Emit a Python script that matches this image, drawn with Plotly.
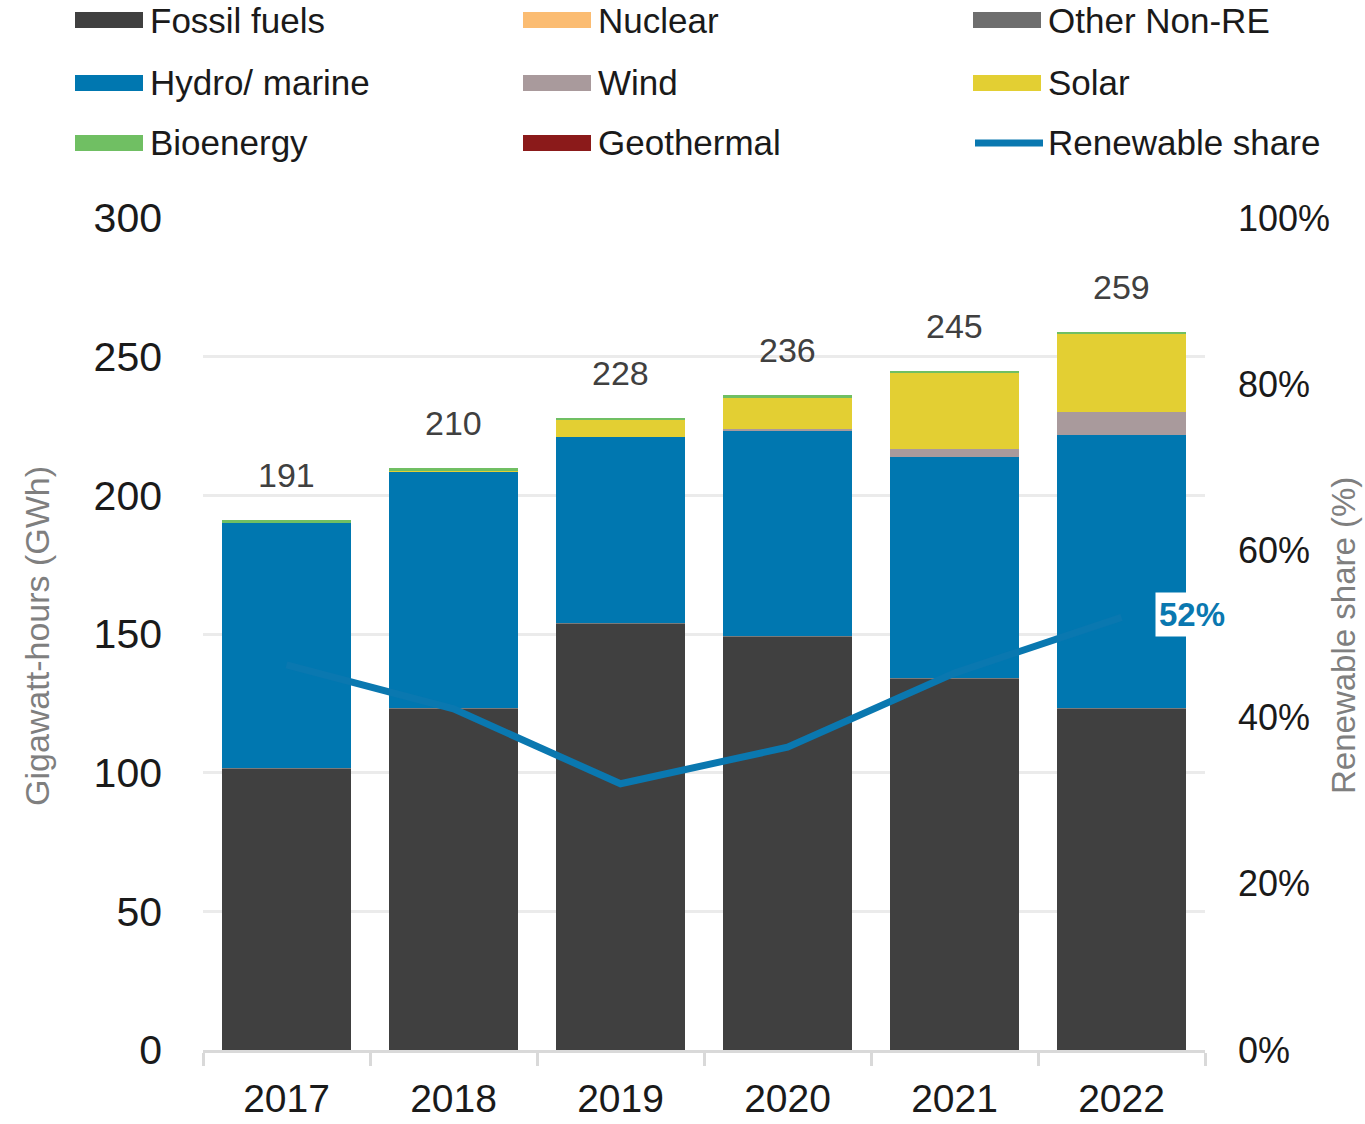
import plotly.graph_objects as go

# Electricity generation by source (GWh) and renewable share
years = ["2017", "2018", "2019", "2020", "2021", "2022"]
fossil = [101.5, 123.0, 153.7, 149.0, 133.8, 123.0]
nuclear = [0, 0, 0, 0, 0, 0]
other_non_re = [0.3, 0.3, 0.3, 0.3, 0.3, 0.3]
hydro = [88.4, 85.2, 67.0, 74.2, 79.9, 98.3]
wind = [0, 0, 0, 0.6, 2.6, 8.5]
solar = [0, 0.4, 6.2, 11.1, 27.6, 28.1]
bioenergy = [0.8, 1.1, 0.8, 0.8, 0.8, 0.8]
geothermal = [0, 0, 0, 0, 0, 0]
totals = [191, 210, 228, 236, 245, 259]
renewable_share = [0.463, 0.410, 0.320, 0.364, 0.453, 0.52]

series = [
    ("Fossil fuels", fossil, "#404040"),
    ("Nuclear", nuclear, "#fbbc72"),
    ("Other Non-RE", other_non_re, "#7a7a7a"),
    ("Hydro/ marine", hydro, "#0077b0"),
    ("Wind", wind, "#a99a9c"),
    ("Solar", solar, "#e3cf33"),
    ("Bioenergy", bioenergy, "#70bf63"),
    ("Geothermal", geothermal, "#8b1a1a"),
]
LINE_COLOR = "#0a78b0"
FONT = "Liberation Sans, Arial, sans-serif"

fig = go.Figure()
for name, vals, color in series:
    fig.add_trace(go.Bar(
        x=years, y=vals, name=name,
        marker=dict(color=color, line=dict(width=0)),
        showlegend=False,
    ))

fig.add_trace(go.Scatter(
    x=years, y=renewable_share, yaxis="y2", mode="lines",
    line=dict(color=LINE_COLOR, width=7), name="Renewable share",
    showlegend=False,
))

# Plot area geometry (pixels) used for the hand-built legend
W, H = 1365, 1124
L, R, T, B = 203, 160, 218, 74
PW, PH = W - L - R, H - T - B


def px_x(px):
    return (px - L) / PW


def px_y(py):
    return (H - B - py) / PH


shapes = []
annotations = []

legend_items = [
    ("Fossil fuels", "#404040", 75, 20, "rect"),
    ("Nuclear", "#fbbc72", 523, 20, "rect"),
    ("Other Non-RE", "#6e6e6e", 973, 20, "rect"),
    ("Hydro/ marine", "#0077b0", 75, 83, "rect"),
    ("Wind", "#a99a9c", 523, 83, "rect"),
    ("Solar", "#e3cf33", 973, 83, "rect"),
    ("Bioenergy", "#70bf63", 75, 143, "rect"),
    ("Geothermal", "#8b1a1a", 523, 143, "rect"),
    ("Renewable share", LINE_COLOR, 973, 143, "line"),
]
for label, color, x0, yc, kind in legend_items:
    if kind == "rect":
        shapes.append(dict(
            type="rect", xref="paper", yref="paper",
            x0=px_x(x0), x1=px_x(x0 + 68), y0=px_y(yc + 8), y1=px_y(yc - 8),
            fillcolor=color, line=dict(width=0),
        ))
    else:
        shapes.append(dict(
            type="line", xref="paper", yref="paper",
            x0=px_x(x0 + 2), x1=px_x(x0 + 70), y0=px_y(yc), y1=px_y(yc),
            line=dict(color=color, width=7),
        ))
    annotations.append(dict(
        text=label, xref="paper", yref="paper",
        x=px_x(x0 + 73), y=px_y(yc), xanchor="left", yanchor="middle",
        showarrow=False, font=dict(family=FONT, size=35, color="#1a1a1a"),
    ))

# Totals above the stacked bars (x given as category index)
for i, tot in enumerate(totals):
    annotations.append(dict(
        x=i, y=tot, xref="x", yref="y", text=str(tot), showarrow=False,
        yanchor="bottom", yshift=24,
        font=dict(family=FONT, size=34, color="#404040"),
    ))

# Latest renewable share value
annotations.append(dict(
    x=len(years) - 1, y=renewable_share[-1], xref="x", yref="y2",
    text="<b>52%</b>", showarrow=False, xshift=70, yshift=3,
    bgcolor="white", borderpad=3,
    font=dict(family=FONT, size=33, color=LINE_COLOR),
))

# Axis titles
annotations.append(dict(
    text="Gigawatt-hours (GWh)", xref="paper", yref="paper",
    x=px_x(37), y=px_y(636), textangle=-90, showarrow=False,
    xanchor="center", yanchor="middle",
    font=dict(family=FONT, size=34, color="#7f7f7f"),
))
annotations.append(dict(
    text="Renewable share (%)", xref="paper", yref="paper",
    x=px_x(1343), y=px_y(636), textangle=-90, showarrow=False,
    xanchor="center", yanchor="middle",
    font=dict(family=FONT, size=33, color="#7f7f7f"),
))

fig.update_layout(
    width=W, height=H,
    margin=dict(l=L, r=R, t=T, b=B, autoexpand=False),
    barmode="stack", bargap=0.23,
    plot_bgcolor="white", paper_bgcolor="white",
    font=dict(family=FONT, color="#1a1a1a"),
    shapes=shapes, annotations=annotations,
    xaxis=dict(
        type="category", range=[-0.5, len(years) - 0.5],
        showgrid=False, zeroline=False, tickangle=0,
        showline=True, linecolor="#d9d9d9", linewidth=3,
        ticks="outside", tickson="boundaries", ticklen=13, tickwidth=3,
        tickcolor="#d9d9d9", tickfont=dict(size=39, color="#1a1a1a"),
        ticklabelstandoff=12,
    ),
    yaxis=dict(
        range=[0, 300], dtick=50, showgrid=True, gridcolor="#ebebeb",
        gridwidth=3, zeroline=False, showline=False,
        tickfont=dict(size=41, color="#1a1a1a"), ticklabelstandoff=40,
    ),
    yaxis2=dict(
        overlaying="y", side="right", range=[0, 1], dtick=0.2,
        tickformat=".0%", showgrid=False, zeroline=False, showline=False,
        tickfont=dict(size=36, color="#1a1a1a"), ticklabelstandoff=32,
    ),
)

fig.write_html("out.html")
